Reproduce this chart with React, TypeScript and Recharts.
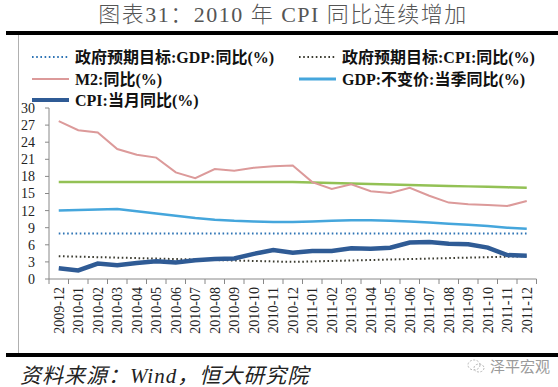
import React from "react";
import { LineChart, Line, XAxis, YAxis } from "recharts";

const months = [
  "2009-12", "2010-01", "2010-02", "2010-03", "2010-04", "2010-05", "2010-06",
  "2010-07", "2010-08", "2010-09", "2010-10", "2010-11", "2010-12", "2011-01",
  "2011-02", "2011-03", "2011-04", "2011-05", "2011-06", "2011-07", "2011-08",
  "2011-09", "2011-10", "2011-11", "2011-12",
];

// 政府预期目标:GDP:同比(%)
const gdpTarget = [8, 8, 8, 8, 8, 8, 8, 8, 8, 8, 8, 8, 8, 8, 8, 8, 8, 8, 8, 8, 8, 8, 8, 8, 8];
// 政府预期目标:CPI:同比(%)
const cpiTarget = [
  4.0, 3.92, 3.83, 3.75, 3.67, 3.58, 3.5, 3.42, 3.33, 3.25, 3.17, 3.08, 3.0,
  3.08, 3.17, 3.25, 3.33, 3.42, 3.5, 3.58, 3.67, 3.75, 3.83, 3.92, 4.0,
];
// M2 target (green, not in legend)
const m2Target = [
  17, 17, 17, 17, 17, 17, 17, 17, 17, 17, 17, 17, 17,
  16.92, 16.83, 16.75, 16.67, 16.58, 16.5, 16.42, 16.33, 16.25, 16.17, 16.08, 16.0,
];
const m2 = [
  27.7, 26.1, 25.7, 22.8, 21.8, 21.3, 18.7, 17.7, 19.3, 19.0, 19.5, 19.8, 19.9,
  17.0, 15.8, 16.6, 15.4, 15.1, 16.0, 14.6, 13.4, 13.1, 13.0, 12.8, 13.7,
];
const gdp = [
  12.0, 12.1, 12.2, 12.3, 11.9, 11.5, 11.1, 10.7, 10.4, 10.2, 10.1, 10.0, 10.0,
  10.1, 10.2, 10.3, 10.3, 10.2, 10.1, 9.9, 9.7, 9.5, 9.3, 9.0, 8.8,
];
const cpi = [
  1.9, 1.5, 2.7, 2.4, 2.8, 3.1, 2.9, 3.3, 3.5, 3.6, 4.4, 5.1, 4.6,
  4.9, 4.9, 5.4, 5.3, 5.5, 6.4, 6.5, 6.2, 6.1, 5.5, 4.2, 4.1,
];
const yTicks = [0, 3, 6, 9, 12, 15, 18, 21, 24, 27, 30];

const data = months.map((m, i) => ({
  month: m,
  gdpTarget: gdpTarget[i],
  cpiTarget: cpiTarget[i],
  m2Target: m2Target[i],
  m2: m2[i],
  gdp: gdp[i],
  cpi: cpi[i],
}));

const C_GDPT = "#2e74b5";
const C_CPIT = "#3b3b30";
const C_M2 = "#dc9a9a";
const C_GDP = "#45a6dc";
const C_CPI = "#2f5b95";
const C_M2T = "#93c155";

const SERIF = '"Liberation Serif", "Noto Sans CJK SC", serif';
const HALF = 9.75;

const XTick = (props: any) => {
  const { x, y, payload, index } = props;
  return (
    <g>
      <line x1={x - HALF} y1={y} x2={x - HALF} y2={y + 5} stroke="#888" />
      {index === months.length - 1 && (
        <line x1={x + HALF} y1={y} x2={x + HALF} y2={y + 5} stroke="#888" />
      )}
      <text
        x={x}
        y={y + 8}
        dy="0.35em"
        transform={`rotate(-90, ${x}, ${y + 8})`}
        textAnchor="end"
        fontSize={14}
        fontFamily={SERIF}
        fill="#222"
      >
        {payload.value}
      </text>
    </g>
  );
};

const legendItems = [
  { label: "政府预期目标:GDP:同比(%)", color: C_GDPT, dotted: true, w: 2, x: 32, y: 57 },
  { label: "政府预期目标:CPI:同比(%)", color: C_CPIT, dotted: true, w: 2, x: 299, y: 57 },
  { label: "M2:同比(%)", color: C_M2, dotted: false, w: 2, x: 32, y: 79 },
  { label: "GDP:不变价:当季同比(%)", color: C_GDP, dotted: false, w: 3, x: 299, y: 79 },
  { label: "CPI:当月同比(%)", color: C_CPI, dotted: false, w: 4, x: 32, y: 100 },
];

export default function App() {
  return (
    <div
      style={{
        position: "absolute",
        left: 0,
        top: 0,
        width: 558,
        height: 387,
        background: "#fff",
        overflow: "hidden",
        fontFamily: SERIF,
      }}
    >
      <div
        style={{
          position: "absolute",
          top: 2,
          left: 0,
          width: 566,
          textAlign: "center",
          fontSize: 22,
          fontWeight: 300,
          color: "#555",
          lineHeight: "26px",
          letterSpacing: 1.5,
        }}
      >
        图表31：2010 年 CPI 同比连续增加
      </div>
      <div style={{ position: "absolute", left: 6, top: 31, width: 552, height: 4, background: "#000" }} />
      <div style={{ position: "absolute", left: 18, top: 35, width: 1, height: 319, background: "#b0b0b0" }} />
      <div style={{ position: "absolute", left: 6, top: 353, width: 552, height: 4, background: "#000" }} />

      <svg width={558} height={120} style={{ position: "absolute", left: 0, top: 0 }}>
        {legendItems.map((it) => (
          <g key={it.label}>
            <line
              x1={it.x}
              x2={it.x + 37}
              y1={it.y}
              y2={it.y}
              stroke={it.color}
              strokeWidth={it.w}
              strokeDasharray={it.dotted ? "1.6 2.6" : undefined}
            />
            <text
              x={it.x + 43}
              y={it.y}
              dy="0.36em"
              fontSize={16}
              fontWeight="bold"
              fontFamily={SERIF}
              fill="#111"
            >
              {it.label}
            </text>
          </g>
        ))}
      </svg>

      <div style={{ position: "absolute", left: 0, top: 0 }}>
        <LineChart
          width={558}
          height={387}
          data={data}
          margin={{ top: 108, right: 21.5, bottom: 48, left: 0 }}
        >
          <XAxis
            dataKey="month"
            interval={0}
            height={60}
            padding={{ left: HALF, right: HALF }}
            tickLine={false}
            tickSize={0}
            tickMargin={0}
            axisLine={{ stroke: "#888" }}
            tick={<XTick />}
          />
          <YAxis
            width={49}
            domain={[0, 30]}
            ticks={yTicks}
            interval={0}
            tickSize={4}
            tickMargin={10}
            axisLine={{ stroke: "#888" }}
            tickLine={{ stroke: "#888" }}
            tick={{ fontSize: 14, fontFamily: SERIF, fill: "#222" }}
          />
          <Line dataKey="m2Target" stroke={C_M2T} strokeWidth={2.5} dot={false} isAnimationActive={false} legendType="none" />
          <Line dataKey="m2" stroke={C_M2} strokeWidth={2} dot={false} isAnimationActive={false} />
          <Line dataKey="gdp" stroke={C_GDP} strokeWidth={2.5} dot={false} isAnimationActive={false} />
          <Line dataKey="gdpTarget" stroke={C_GDPT} strokeWidth={2} strokeDasharray="1.6 2.6" dot={false} isAnimationActive={false} />
          <Line dataKey="cpiTarget" stroke={C_CPIT} strokeWidth={2} strokeDasharray="1.6 2.6" dot={false} isAnimationActive={false} />
          <Line dataKey="cpi" stroke={C_CPI} strokeWidth={4.5} dot={false} isAnimationActive={false} />
        </LineChart>
      </div>

      <div
        style={{
          position: "absolute",
          left: 20,
          top: 364,
          fontSize: 21,
          fontStyle: "italic",
          color: "#222",
          lineHeight: "24px",
          letterSpacing: 1,
          whiteSpace: "nowrap",
        }}
      >
        资料来源：Wind，恒大研究院
      </div>
      <div
        style={{
          position: "absolute",
          left: 490,
          top: 357,
          fontSize: 15,
          color: "#9a9a9a",
          lineHeight: "18px",
          fontFamily: '"Noto Sans CJK SC", sans-serif',
        }}
      >
        泽平宏观
      </div>
      <svg width={20} height={16} style={{ position: "absolute", left: 466, top: 358 }}>
        <ellipse cx={8} cy={7} rx={6} ry={5} fill="none" stroke="#b8b8b8" strokeDasharray="2 1.5" />
        <ellipse cx={13} cy={10} rx={5} ry={4} fill="none" stroke="#b8b8b8" strokeDasharray="2 1.5" />
      </svg>
    </div>
  );
}
